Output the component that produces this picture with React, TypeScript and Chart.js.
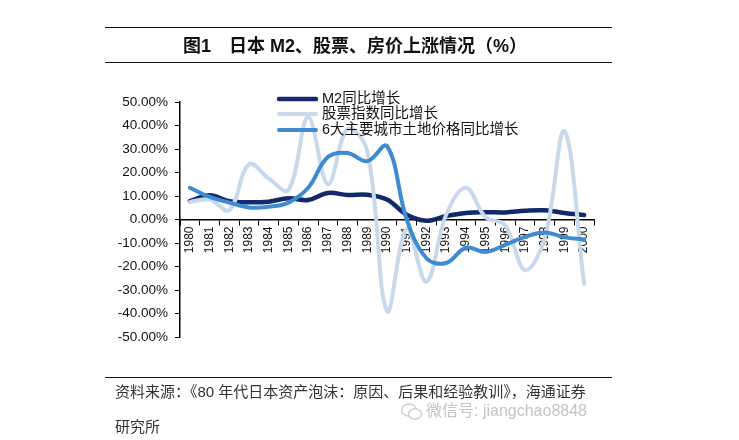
import React, { useEffect, useRef } from "react";
import { Chart, registerables } from "chart.js";

Chart.register(...registerables);

const years = [
  "1980", "1981", "1982", "1983", "1984", "1985", "1986", "1987", "1988", "1989", "1990",
  "1991", "1992", "1993", "1994", "1995", "1996", "1997", "1998", "1999", "2000",
];
const m2Growth = [7.8, 10.3, 7.8, 7.3, 7.6, 9.0, 8.3, 11.3, 10.4, 10.5, 8.5, 2.0, -0.5, 1.5, 2.8, 3.1, 3.0, 3.7, 3.9, 2.8, 1.9];
const stockGrowth = [7.5, 8.5, 4.0, 23.5, 17.5, 12.5, 43.5, 15.0, 38.5, 29.0, -39.0, -4.0, -26.5, 2.0, 13.5, 1.0, -2.5, -21.5, -8.0, 37.5, -27.5];
const landGrowth = [13.5, 9.6, 7.2, 5.1, 5.4, 7.2, 13.5, 26.6, 28.3, 24.8, 31.2, 0.0, -16.5, -18.5, -12.0, -13.8, -10.8, -7.4, -5.5, -7.6, -8.5];
const seriesNames = ["M2同比增长", "股票指数同比增长", "6大主要城市土地价格同比增长"];
const seriesColors = ["#122a6c", "#c8d9eb", "#3d8bd0"];
const yMin = -50;
const yMax = 50;
const yStep = 10;

const titleText = "图1\u3000日本 M2、股票、房价上涨情况（%）";
const sourceLine1 = "资料来源：《80 年代日本资产泡沫：原因、后果和经验教训》，海通证券";
const sourceLine2 = "研究所";
const watermark = "微信号: jiangchao8848";

const legendPlugin = {
  id: "customLegend",
  afterDatasetsDraw(chart: any) {
    const ctx = chart.ctx;
    const rows = [99, 114, 130];
    ctx.save();
    chart.data.datasets.forEach((ds: any, i: number) => {
      const y = rows[i];
      ctx.strokeStyle = ds.borderColor;
      ctx.lineWidth = ds.borderWidth;
      ctx.lineCap = "round";
      ctx.beginPath();
      ctx.moveTo(279, y);
      ctx.lineTo(316, y);
      ctx.stroke();
      ctx.fillStyle = "#111";
      ctx.font = "14.5px 'Liberation Sans', 'Noto Sans CJK SC', sans-serif";
      ctx.textBaseline = "middle";
      ctx.textAlign = "left";
      ctx.fillText(ds.label, 322, y);
    });
    ctx.restore();
  },
};

export default function App() {
  const canvasRef = useRef<HTMLCanvasElement | null>(null);

  useEffect(() => {
    if (!canvasRef.current) return;
    const mk = (label: string, data: number[], color: string, width: number, order: number) => ({
      label,
      data,
      borderColor: color,
      backgroundColor: color,
      borderWidth: width,
      pointRadius: 0,
      tension: 0.38,
      fill: false,
      order,
      borderCapStyle: "round" as const,
      borderJoinStyle: "round" as const,
    });
    const chart = new Chart(canvasRef.current, {
      type: "line",
      data: {
        labels: years,
        datasets: [
          mk(seriesNames[0], m2Growth, seriesColors[0], 4.5, 2),
          mk(seriesNames[1], stockGrowth, seriesColors[1], 4, 1),
          mk(seriesNames[2], landGrowth, seriesColors[2], 4, 0),
        ],
      },
      options: {
        animation: false,
        responsive: false,
        devicePixelRatio: 1,
        layout: { padding: { left: 0, top: 102, right: 145, bottom: 103 } },
        plugins: { legend: { display: false }, tooltip: { enabled: false } },
        scales: {
          x: {
            type: "category",
            position: { y: 0 } as any,
            offset: true,
            grid: {
              offset: true,
              drawOnChartArea: false,
              drawTicks: true,
              tickLength: 5,
              color: "#000",
              lineWidth: 1,
            },
            border: { display: true, color: "#000", width: 1.5 },
            ticks: {
              autoSkip: false,
              minRotation: 90,
              maxRotation: 90,
              padding: 2,
              color: "#111",
              font: { family: "'Liberation Sans', Arial, sans-serif", size: 12 },
            },
          },
          y: {
            min: yMin,
            max: yMax,
            grid: {
              drawOnChartArea: false,
              drawTicks: true,
              tickLength: 5,
              color: "#000",
              lineWidth: 1,
            },
            border: { display: true, color: "#000", width: 1.5 },
            ticks: {
              stepSize: yStep,
              padding: 7,
              color: "#111",
              font: { family: "'Liberation Sans', Arial, sans-serif", size: 13.5 },
              callback: (v: any) => Number(v).toFixed(2) + "%",
            },
            afterFit: (s: any) => {
              s.width = 180;
            },
          },
        },
      },
      plugins: [legendPlugin],
    });
    return () => chart.destroy();
  }, []);

  const cjk = "'Liberation Sans', 'Noto Sans CJK SC', sans-serif";

  return (
    <div style={{ position: "absolute", left: 0, top: 0, width: 739, height: 440, background: "#fff", overflow: "hidden" }}>
      <canvas ref={canvasRef} width={739} height={440} style={{ position: "absolute", left: 0, top: 0, width: 739, height: 440 }} />
      <div style={{ position: "absolute", left: 105, top: 27, width: 507, height: 0, borderTop: "1.5px solid #111" }} />
      <div
        style={{
          position: "absolute",
          left: 105,
          top: 34,
          width: 500,
          textAlign: "center",
          fontFamily: cjk,
          fontWeight: "bold",
          fontSize: 18,
          lineHeight: "24px",
          color: "#111",
          whiteSpace: "pre",
        }}
      >
        {titleText}
      </div>
      <div style={{ position: "absolute", left: 105, top: 62, width: 507, height: 0, borderTop: "1.5px solid #111" }} />
      <div style={{ position: "absolute", left: 105, top: 377, width: 507, height: 0, borderTop: "1.5px solid #111" }} />
      <div
        style={{
          position: "absolute",
          left: 115,
          top: 382,
          fontFamily: cjk,
          fontSize: 15,
          lineHeight: "20px",
          color: "#333",
          whiteSpace: "pre",
        }}
      >
        {sourceLine1}
      </div>
      <svg width={24} height={20} style={{ position: "absolute", left: 400, top: 402 }}>
        <ellipse cx={9} cy={8} rx={7.5} ry={6} fill="none" stroke="#cfcfcf" strokeWidth={1.5} />
        <ellipse cx={15} cy={12} rx={6.5} ry={5.2} fill="#fff" stroke="#cfcfcf" strokeWidth={1.5} />
      </svg>
      <div
        style={{
          position: "absolute",
          left: 426,
          top: 401,
          fontFamily: "'Liberation Sans', 'Noto Sans CJK SC', sans-serif",
          fontSize: 16,
          lineHeight: "20px",
          color: "#c4c4c4",
          whiteSpace: "pre",
        }}
      >
        {watermark}
      </div>
      <div
        style={{
          position: "absolute",
          left: 115,
          top: 417,
          fontFamily: cjk,
          fontSize: 15,
          lineHeight: "20px",
          color: "#333",
          whiteSpace: "pre",
        }}
      >
        {sourceLine2}
      </div>
    </div>
  );
}
